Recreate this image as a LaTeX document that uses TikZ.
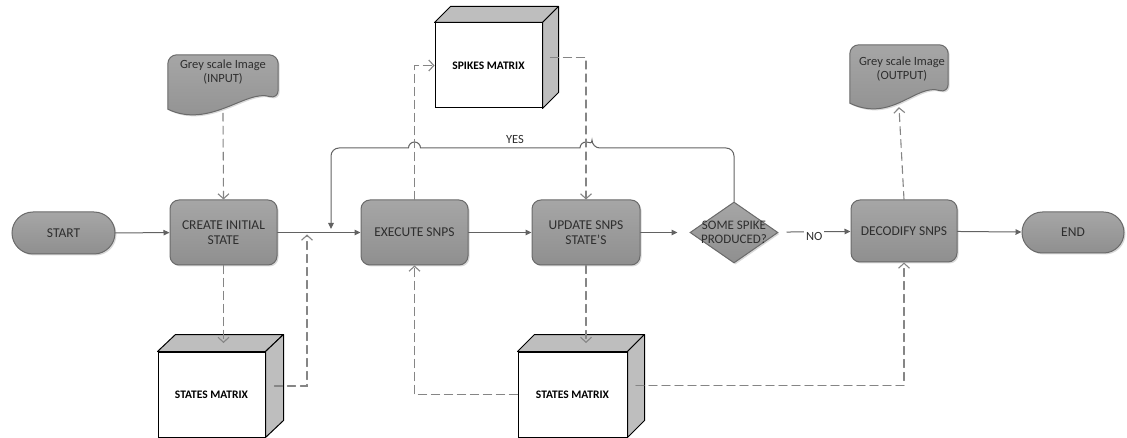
\documentclass[tikz,border=0pt]{standalone}
\usepackage{fontspec}
\setmainfont{Carlito}
\usetikzlibrary{arrows.meta,shapes.misc,shapes.geometric,shadows,calc}

\definecolor{boxtop}{HTML}{A6A6A6}
\definecolor{boxbot}{HTML}{8F8F8F}
\definecolor{boxline}{HTML}{6A6A6A}
\definecolor{cubegrey}{HTML}{BEBEBE}
\definecolor{dashgrey}{HTML}{858585}
\definecolor{flowgrey}{HTML}{626262}
\definecolor{txtgrey}{HTML}{2E2E2E}

\tikzset{
  greybox/.style={draw=boxline, line width=1pt, top color=boxtop, bottom color=boxbot,
    drop shadow={shadow xshift=1.5pt, shadow yshift=-1.5pt, opacity=.3},
    text=txtgrey, align=center, font=\fontsize{13.5}{15}\selectfont, inner sep=2pt},
  stepbox/.style={greybox, rectangle, rounded corners=9pt, minimum width=107pt, minimum height=65pt},
  termbox/.style={greybox, rounded rectangle, minimum width=107pt, minimum height=42pt},
  askbox/.style={greybox, diamond, inner sep=0pt, minimum width=88pt, minimum height=61pt},
  docbox/.style={rectangle, draw=none, inner sep=0pt},
  doctext/.style={text=txtgrey, align=center, font=\fontsize{12.5}{14}\selectfont},
  cubefront/.style={draw=black, line width=1pt, fill=white, minimum height=85pt,
    text=black, font=\bfseries\fontsize{11.5}{13}\selectfont},
  cubeface/.style={draw=black, line width=1pt, fill=cubegrey, line join=round},
  flow/.style={draw=flowgrey, line width=1pt, -{Triangle[length=6pt,width=5.5pt]}},
  dflow/.style={draw=dashgrey, line width=1.1pt, dash pattern=on 8pt off 5pt,
    -{Straight Barb[length=5pt,width=11pt]}},
  lbl/.style={text=txtgrey, font=\fontsize{12.5}{14}\selectfont, inner sep=2pt}
}

% grey document with wavy bottom, drawn round an empty box node
\newcommand\docpath[1]{%
  \draw[greybox, rounded corners=9pt]
    ($(#1.south west)+(0,-4)$) -- (#1.north west) -- (#1.north east)
    -- ($(#1.south east)+(0,-14)$) [sharp corners]
    .. controls ($(#1.south east)+(-32,-24)$) and ($(#1.south west)+(42,16)$) .. ($(#1.south west)+(0,-4)$)
    -- cycle;}

% top and side faces of a box, offset #2 = (dx,dy)
\newcommand\cubefaces[2]{%
  \draw[cubeface] (#1.north west) -- ($(#1.north west)+#2$) -- ($(#1.north east)+#2$) -- (#1.north east) -- cycle;
  \draw[cubeface] (#1.north east) -- ($(#1.north east)+#2$) -- ($(#1.south east)+#2$) -- (#1.south east) -- cycle;}

\begin{document}
\begin{tikzpicture}[x=1pt, y=-1pt, line cap=round]

  %% ════ main row ════
  \node[termbox] (start) at (63.5,233) {START};
  \node[stepbox] (create) at (223.5,232.5) {CREATE INITIAL\\STATE};
  \node[stepbox] (execute) at (414.5,232.5) {EXECUTE SNPS};
  \node[stepbox, minimum width=108pt] (update) at (586,232.5) {UPDATE SNPS\\STATE'S};
  \node[askbox] (ask) at (734,232.5) {};
  \node[lbl, align=center, font=\fontsize{13}{14.5}\selectfont] (asktxt) at (ask.center) {SOME SPIKE\\PRODUCED?};
  \node[stepbox, minimum width=106pt, minimum height=62pt] (decode) at (904,231) {DECODIFY SNPS};
  \node[termbox, minimum width=106pt, minimum height=41pt] (stop) at (1073,232.5) {END};

  %% ════ documents ════
  \node[docbox, minimum width=110pt, minimum height=58pt] (input) at (223,84) {};
  \docpath{input}
  \node[doctext] (inputtxt) at ($(input.center)+(0,-12)$) {Grey scale Image\\(INPUT)};
  \node[docbox, minimum width=98pt, minimum height=62pt] (output) at (899,76) {};
  \docpath{output}
  \node[doctext] (outputtxt) at ($(output.center)+(3,-7)$) {Grey scale Image\\(OUTPUT)};

  %% ════ matrices ════
  \node[cubefront, minimum width=107pt] (spikes) at (488.5,65.5) {SPIKES MATRIX};
  \cubefaces{spikes}{(16,-16)}
  \node[cubefront, minimum width=107pt] (states1) at (211.5,394.5) {STATES MATRIX};
  \cubefaces{states1}{(18,-17)}
  \node[cubefront, minimum width=109pt] (states2) at (572.5,394.5) {STATES MATRIX};
  \cubefaces{states2}{(17,-17)}

  \coordinate (states1top) at ($(states1.north)+(9,-8.5)$);
  \coordinate (states1side) at ($(states1.east)+(9,-8.5)$);
  \coordinate (states2top) at ($(states2.north)+(8.5,-8.5)$);
  \coordinate (states2side) at ($(states2.east)+(8.5,-9)$);
  \coordinate (spikesside) at ($(spikes.east)+(8,-8)$);
  \coordinate (join) at (307,233);
  \coordinate (yesrow) at (0,148);
  \coordinate (yesend) at (331,233);

  %% ════ solid connectors ════
  \draw[flow] (start) -- (create);
  \draw[flow] (create) -- (execute);
  \draw[flow] (execute) -- (update);
  \draw[flow, shorten >=12pt] (update) -- (ask);
  \draw[flow, shorten <=9pt] (ask) -- node[lbl, midway, fill=white, yshift=-5pt] (no) {NO} (decode);
  \draw[flow] (decode) -- (stop);

  %% YES loop, with hops over the dashed lines
  \draw[flow, shorten >=4pt, rounded corners=8pt] (ask.north) |- ($(update.north |- yesrow)+(6,0)$)
    [sharp corners] arc[start angle=0, end angle=-180, radius=6]
    -- ($(execute.north |- yesrow)+(6,0)$)
    arc[start angle=0, end angle=-180, radius=6]
    [rounded corners=8pt] -| (yesend);
  \node[lbl] (yes) at (515,139) {YES};

  %% ════ dashed connectors ════
  \draw[dflow] (input.south) -- (create.north);
  \draw[dflow] (create.south) -- (create.south |- states1top);
  \draw[dflow, shorten >=1.5pt] (states1side) -| (join);
  \draw[dflow] (execute.north) |- (spikes.west);
  \draw[dflow] (spikesside) -| (update.north);
  \draw[dflow] (update.south) -- (update.south |- states2top);
  \draw[dflow] (states2.west) -| (execute.south);
  \draw[dflow] (states2side) -| (decode.south);
  \draw[dflow] (decode.north) -- (output.south);

  \pgfresetboundingbox
  \path[use as bounding box] (0,0) rectangle (1127,438);
\end{tikzpicture}
\end{document}
